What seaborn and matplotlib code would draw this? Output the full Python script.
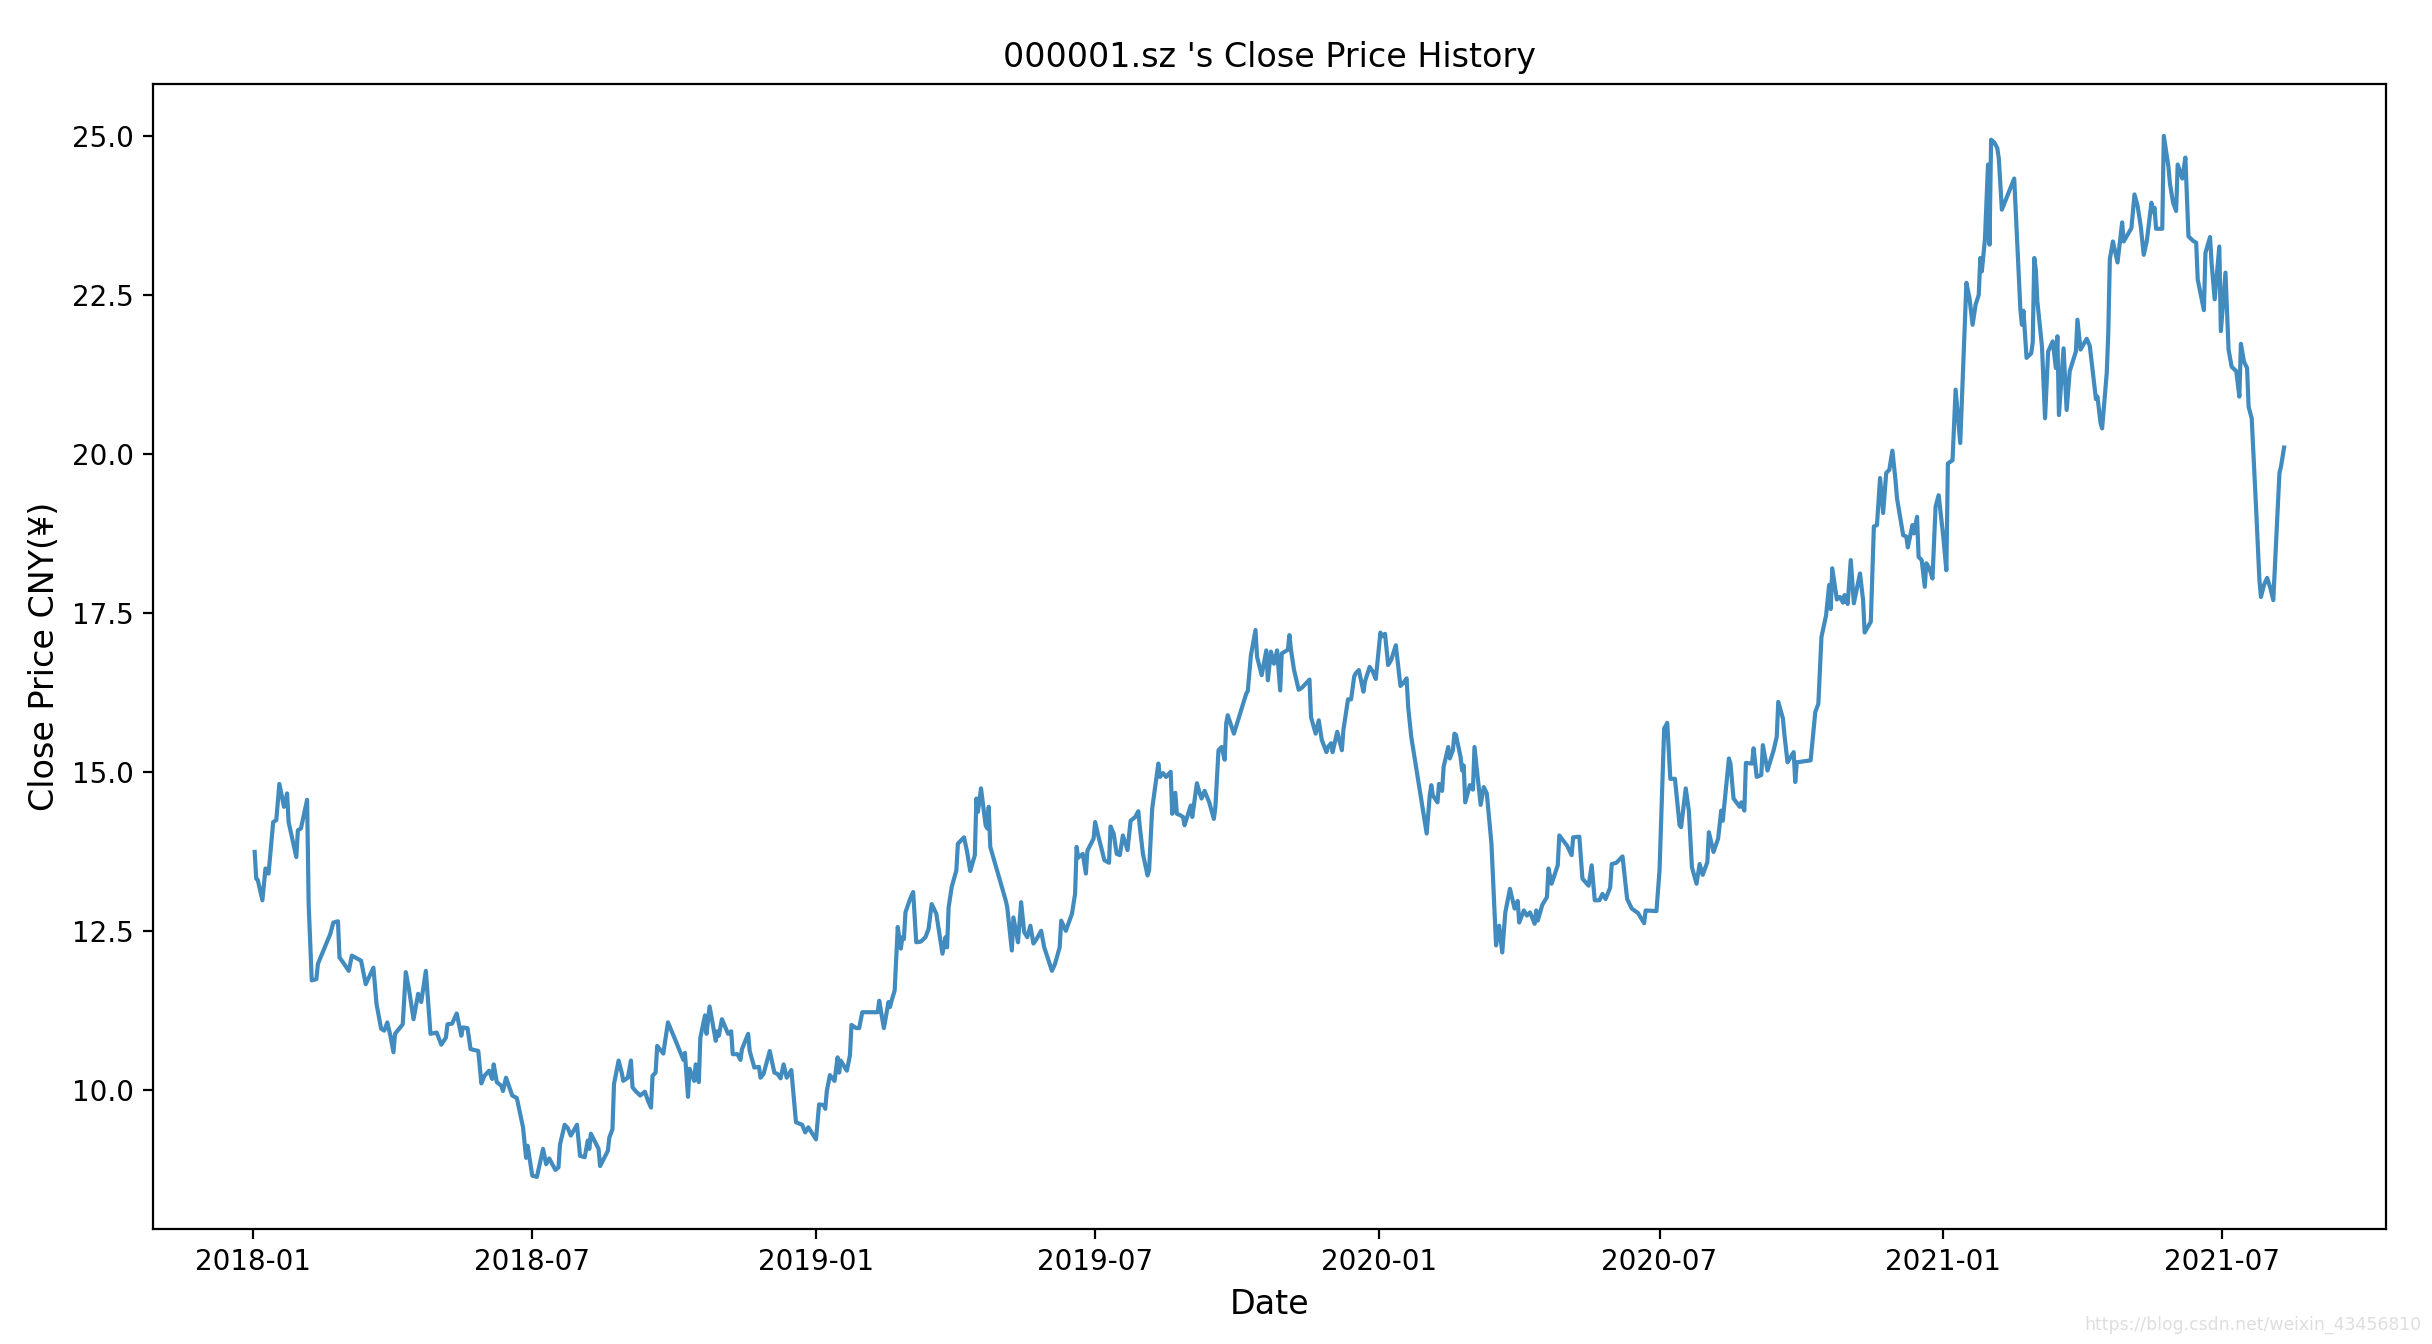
import matplotlib
matplotlib.use("Agg")
import matplotlib.pyplot as plt
import matplotlib.dates as mdates
import seaborn as sns
import pandas as pd

# ---- data ----
start_date = "2018-01-01"
# trading-day offsets (days since start_date) of the sampled closes
day_offsets = [
    1, 2, 3, 6, 8, 10, 13, 15, 17, 20, 22, 23, 28, 29, 31, 35, 36, 38, 41, 42,
    50, 52, 55, 56, 59, 62, 64, 70, 73, 78, 80, 83, 85, 87, 89, 91, 92, 97, 99, 101,
    104, 107, 109, 112, 115, 119, 122, 125, 126, 129, 132, 135, 136, 139, 141, 146, 148, 150, 153, 155,
    156, 158, 161, 162, 164, 168, 171, 175, 177, 178, 181, 184, 188, 190, 192, 196, 198, 199, 202, 204,
    206, 210, 212, 215, 217, 218, 219, 224, 225, 230, 231, 233, 234, 237, 239, 240, 243, 245, 246, 248,
    251, 254, 256, 258, 259, 261, 262, 266, 267, 269, 274, 279, 280, 282, 283, 286, 287, 289, 290, 293,
    294, 296, 300, 301, 302, 304, 308, 310, 311, 314, 316, 317, 321, 322, 325, 328, 329, 331, 335, 338,
    340, 342, 344, 346, 349, 352, 356, 358, 360, 365, 367, 370, 371, 372, 374, 377, 379, 380, 381, 385,
    387, 388, 391, 393, 395, 405, 406, 409, 412, 413, 414, 416, 418, 420, 421, 422, 423, 426, 428, 430,
    433, 436, 438, 440, 443, 444, 447, 449, 450, 451, 453, 456, 457, 461, 463, 465, 468, 469, 470, 472,
    475, 476, 477, 478, 488, 489, 492, 493, 496, 498, 500, 502, 504, 506, 508, 511, 513, 518, 520, 523,
    524, 527, 531, 533, 534, 535, 538, 540, 541, 545, 546, 548, 552, 555, 556, 558, 560, 562, 564, 567,
    569, 572, 574, 575, 577, 580, 581, 583, 587, 588, 590, 592, 595, 596, 598, 599, 601, 603, 604, 608,
    609, 612, 614, 615, 617, 620, 623, 624, 626, 628, 630, 631, 632, 636, 644, 645, 647, 650, 651, 654,
    657, 658, 660, 662, 664, 666, 667, 671, 672, 673, 675, 678, 680, 685, 686, 689, 691, 693, 696, 697,
    699, 700, 703, 706, 707, 710, 712, 714, 715, 717, 720, 721, 724, 726, 728, 731, 732, 734, 736, 738,
    741, 744, 746, 748, 749, 751, 761, 763, 764, 765, 768, 769, 771, 772, 775, 776, 778, 779, 780, 783,
    784, 785, 786, 789, 791, 792, 795, 796, 798, 800, 803, 806, 808, 810, 812, 815, 818, 820, 821, 824,
    826, 828, 831, 832, 833, 836, 839, 840, 842, 846, 847, 852, 855, 856, 860, 862, 866, 868, 870, 873,
    875, 877, 880, 881, 884, 888, 891, 894, 898, 902, 903, 910, 912, 915, 917, 919, 922, 925, 926, 929,
    931, 933, 936, 938, 940, 943, 944, 947, 950, 952, 953, 957, 958, 960, 964, 965, 967, 968, 972, 973,
    975, 978, 979, 982, 986, 988, 989, 992, 993, 995, 999, 1000, 1001, 1010, 1013, 1015, 1017, 1020, 1022, 1023,
    1024, 1027, 1029, 1031, 1032, 1034, 1036, 1038, 1042, 1044, 1045, 1049, 1051, 1053, 1055, 1057, 1059, 1061, 1063, 1065,
    1066, 1070, 1072, 1073, 1076, 1077, 1079, 1080, 1082, 1084, 1085, 1087, 1089, 1091, 1093, 1096, 1098, 1099, 1102, 1104,
    1107, 1111, 1113, 1115, 1117, 1119, 1120, 1121, 1123, 1125, 1126, 1127, 1129, 1131, 1132, 1134, 1142, 1146, 1147, 1148,
    1150, 1153, 1154, 1155, 1156, 1157, 1160, 1162, 1164, 1167, 1169, 1170, 1171, 1174, 1176, 1178, 1182, 1183, 1185, 1189,
    1191, 1195, 1196, 1198, 1199, 1202, 1203, 1204, 1206, 1209, 1212, 1213, 1218, 1220, 1222, 1224, 1226, 1228, 1231, 1232,
    1233, 1234, 1238, 1239, 1242, 1243, 1245, 1247, 1248, 1251, 1253, 1255, 1258, 1260, 1261, 1265, 1266, 1269, 1270, 1272,
    1275, 1276, 1279, 1281, 1283, 1286, 1288, 1289, 1291, 1293, 1294, 1296, 1299, 1301, 1302, 1304, 1306, 1308, 1310, 1314,
    1315, 1317,
]
close_prices = [
    13.74, 13.32, 13.30, 12.98, 13.48, 13.40, 14.21, 14.24, 14.81, 14.45, 14.66, 14.21, 13.66, 14.08, 14.11, 14.56, 12.92, 11.72, 11.74, 11.98,
    12.45, 12.63, 12.65, 12.08, 11.98, 11.87, 12.11, 12.03, 11.66, 11.92, 11.35, 10.96, 10.93, 11.06, 10.85, 10.59, 10.88, 11.03, 11.85, 11.59,
    11.11, 11.51, 11.38, 11.87, 10.88, 10.90, 10.71, 10.82, 11.03, 11.04, 11.20, 10.85, 10.98, 10.97, 10.64, 10.61, 10.10, 10.22, 10.30, 10.17,
    10.40, 10.12, 10.06, 9.98, 10.19, 9.91, 9.87, 9.41, 8.93, 9.12, 8.65, 8.63, 9.07, 8.83, 8.92, 8.74, 8.78, 9.14, 9.45, 9.40,
    9.28, 9.45, 8.96, 8.94, 9.20, 9.07, 9.31, 9.07, 8.80, 9.04, 9.25, 9.38, 10.09, 10.46, 10.27, 10.14, 10.19, 10.46, 10.04, 9.98,
    9.91, 9.97, 9.83, 9.72, 10.22, 10.27, 10.69, 10.57, 10.74, 11.06, 10.77, 10.47, 10.58, 9.89, 10.33, 10.14, 10.40, 10.12, 10.82, 11.17,
    10.88, 11.31, 10.77, 10.92, 10.85, 11.11, 10.88, 10.92, 10.56, 10.56, 10.47, 10.64, 10.88, 10.61, 10.35, 10.36, 10.19, 10.25, 10.61, 10.27,
    10.25, 10.18, 10.40, 10.19, 10.31, 9.49, 9.45, 9.33, 9.41, 9.22, 9.77, 9.76, 9.70, 9.98, 10.23, 10.14, 10.51, 10.27, 10.46, 10.30,
    10.54, 11.02, 10.97, 10.97, 11.22, 11.22, 11.40, 10.97, 11.38, 11.30, 11.40, 11.56, 12.56, 12.22, 12.40, 12.37, 12.79, 13.00, 13.11, 12.32,
    12.33, 12.40, 12.53, 12.92, 12.77, 12.61, 12.14, 12.40, 12.24, 12.87, 13.19, 13.45, 13.87, 13.97, 13.74, 13.44, 13.69, 14.58, 14.37, 14.74,
    14.16, 14.11, 14.45, 13.82, 12.98, 12.87, 12.19, 12.71, 12.32, 12.95, 12.48, 12.40, 12.58, 12.30, 12.37, 12.50, 12.24, 11.87, 11.98, 12.24,
    12.66, 12.50, 12.77, 13.08, 13.82, 13.65, 13.71, 13.40, 13.76, 13.95, 14.21, 14.00, 13.61, 13.57, 14.14, 14.03, 13.71, 13.69, 14.00, 13.77,
    14.23, 14.29, 14.38, 14.13, 13.71, 13.37, 13.45, 14.42, 15.13, 14.92, 14.98, 14.92, 15.00, 14.34, 14.67, 14.34, 14.32, 14.29, 14.16, 14.47,
    14.29, 14.82, 14.65, 14.58, 14.70, 14.52, 14.26, 14.45, 15.34, 15.39, 15.19, 15.76, 15.89, 15.60, 16.23, 16.27, 16.83, 17.23, 16.81, 16.52,
    16.91, 16.44, 16.89, 16.70, 16.91, 16.28, 16.86, 16.92, 17.15, 16.92, 16.60, 16.29, 16.32, 16.45, 15.86, 15.60, 15.81, 15.50, 15.31, 15.39,
    15.45, 15.31, 15.63, 15.34, 15.66, 16.14, 16.14, 16.50, 16.55, 16.60, 16.26, 16.42, 16.65, 16.58, 16.46, 17.19, 17.13, 17.17, 16.68, 16.76,
    16.99, 16.35, 16.40, 16.47, 16.02, 15.55, 14.03, 14.63, 14.79, 14.63, 14.52, 14.81, 14.70, 15.08, 15.39, 15.21, 15.34, 15.60, 15.58, 15.23,
    15.02, 15.10, 14.52, 14.79, 14.72, 15.39, 14.71, 14.48, 14.76, 14.66, 13.87, 12.27, 12.58, 12.16, 12.79, 13.16, 12.85, 12.97, 12.63, 12.82,
    12.74, 12.79, 12.61, 12.82, 12.66, 12.91, 13.03, 13.48, 13.24, 13.53, 14.00, 13.84, 13.69, 13.97, 13.98, 13.32, 13.21, 13.53, 12.98, 12.98,
    13.08, 13.00, 13.18, 13.55, 13.57, 13.67, 13.00, 12.85, 12.78, 12.62, 12.82, 12.81, 13.45, 15.68, 15.77, 14.89, 14.89, 14.16, 14.13, 14.74,
    14.39, 13.50, 13.24, 13.55, 13.38, 13.58, 14.05, 13.74, 13.95, 14.39, 14.23, 15.21, 15.13, 14.58, 14.45, 14.52, 14.39, 15.14, 15.13, 15.37,
    14.92, 14.95, 15.42, 15.02, 15.34, 15.55, 16.10, 15.84, 15.58, 15.15, 15.31, 14.84, 15.15, 15.18, 15.94, 16.07, 17.12, 17.46, 17.94, 17.56,
    18.20, 17.71, 17.75, 17.66, 17.78, 17.64, 18.33, 17.65, 18.12, 17.70, 17.19, 17.36, 18.86, 18.88, 19.62, 19.07, 19.70, 19.75, 20.05, 19.59,
    19.30, 18.72, 18.70, 18.53, 18.88, 18.75, 19.01, 18.38, 18.33, 17.91, 18.28, 18.20, 18.04, 19.17, 19.35, 18.70, 18.17, 19.85, 19.90, 21.01,
    20.17, 22.69, 22.45, 22.03, 22.35, 22.50, 23.08, 22.87, 23.37, 24.55, 23.29, 24.94, 24.90, 24.81, 24.65, 23.84, 24.33, 22.27, 22.03, 22.25,
    21.51, 21.58, 21.75, 23.08, 22.90, 22.40, 21.69, 20.56, 21.61, 21.77, 21.35, 21.85, 20.61, 21.66, 20.69, 21.30, 21.61, 22.11, 21.64, 21.81,
    21.70, 20.86, 20.90, 20.48, 20.40, 21.27, 21.90, 23.06, 23.34, 23.01, 23.64, 23.34, 23.55, 24.08, 23.90, 23.59, 23.13, 23.35, 23.95, 23.80,
    23.87, 23.54, 23.54, 25.00, 24.52, 24.25, 23.95, 23.82, 24.55, 24.33, 24.66, 23.42, 23.35, 23.32, 22.74, 22.26, 23.16, 23.41, 23.00, 22.43,
    23.26, 21.93, 22.85, 21.64, 21.37, 21.30, 20.90, 21.73, 21.45, 21.35, 20.74, 20.56, 19.07, 18.02, 17.75, 17.94, 18.05, 17.90, 17.70, 19.70,
    19.80, 20.10,
]

title_text = "000001.sz 's Close Price History"
x_label = "Date"
y_label = "Close Price CNY(\u00a5)"
watermark = "https://blog.csdn.net/weixin_43456810"

# ---- build frame ----
dates = pd.Timestamp(start_date) + pd.to_timedelta(day_offsets, unit="D")
df = pd.DataFrame({"Date": dates, "Close": close_prices})

# ---- figure ----
fig = plt.figure(figsize=(12.16, 6.72), dpi=200)
ax = fig.add_axes([0.0630, 0.0856, 0.9179, 0.8520])

sns.lineplot(data=df, x="Date", y="Close", ax=ax, color="#1f77b4",
             alpha=0.85, linewidth=1.5, estimator=None)

ax.set_title(title_text, fontsize=12)
ax.set_xlabel(x_label, fontsize=12)
ax.set_ylabel(y_label, fontsize=12)
ax.tick_params(labelsize=10)

ax.xaxis.set_major_locator(mdates.MonthLocator(bymonth=[1, 7]))
ax.xaxis.set_major_formatter(mdates.DateFormatter("%Y-%m"))
ax.set_yticks([10.0, 12.5, 15.0, 17.5, 20.0, 22.5, 25.0])
ax.yaxis.set_major_formatter(matplotlib.ticker.FormatStrFormatter("%.1f"))
ax.margins(x=0.05, y=0.05)

# faint blog watermark in the bottom-right corner
fig.text(0.9955, 0.014, watermark, ha="right", va="center",
         fontsize=6.2, color="#dedede")

fig.savefig("out.png", dpi=200)
